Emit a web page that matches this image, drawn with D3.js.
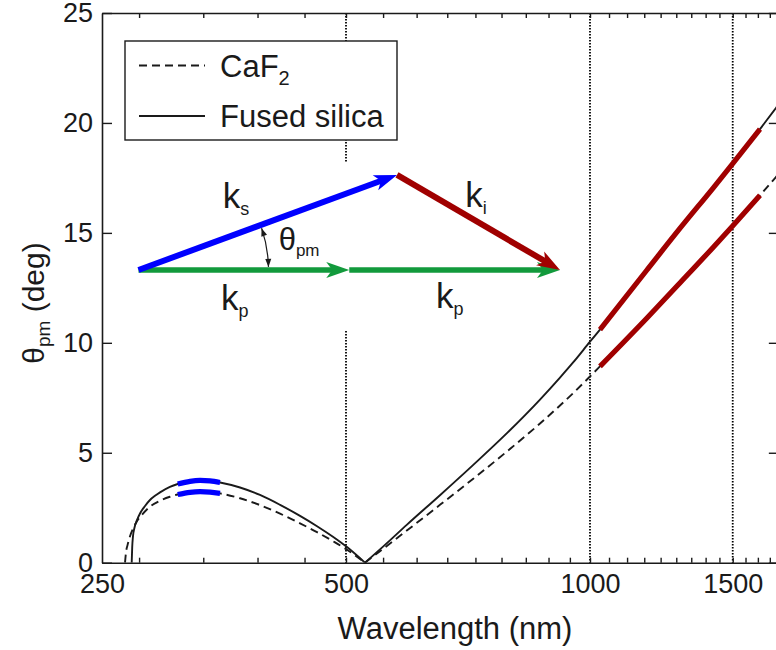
<!DOCTYPE html>
<html><head><meta charset="utf-8">
<script src="https://cdn.jsdelivr.net/npm/d3@7"></script>
<style>
html,body{margin:0;padding:0;background:#fff;overflow:hidden}
svg{display:block}
text{font-family:"Liberation Sans",Arial,Helvetica,sans-serif;fill:#1a1a1a}
</style></head><body>
<svg id="c" width="776" height="650"></svg>
<script>
// ---- data (wavelength nm, phase-matching angle deg) ----
const fusedSilica = [
 [272.0,0],[272.4,0.7],[273.0,1.2],[274.2,1.6],[276.2,1.95],[278.5,2.24],[282.5,2.58],[286.5,2.85],[290.6,3.04],[294.8,3.2],
 [303.2,3.45],[310,3.58],[321,3.7],[330.3,3.74],[339.8,3.72],[349.6,3.65],[370,3.42],[391.6,3.08],[414.6,2.63],[438.8,2.13],
 [460.5,1.66],[481.8,1.18],[501,0.72],[527.7,0],
 [555.5,0.73],[594.2,1.72],[653,3.07],[717.8,4.45],[789.3,5.88],[867.6,7.42],[918.3,8.42],[953.8,9.12],[1000,10.05],[1028.8,10.6],
 [1175,13.3],[1291,15.2],[1419.5,17.05],[1502.5,18.18],[1620.8,19.72],[1696,20.68],[1710,20.85]
];
const caF2 = [
 [266.9,0],[267.6,0.45],[268.8,0.8],[270.7,1.2],[273.3,1.58],[276.2,1.9],[279.9,2.17],[286.5,2.55],[294.8,2.82],[303.2,3.0],
 [310,3.1],[321,3.2],[330.3,3.23],[339.8,3.21],[349.6,3.15],[370,2.93],[391.6,2.62],[414.6,2.23],[438.8,1.79],[460.5,1.39],
 [481.8,0.98],[501,0.6],[527.7,0],
 [594.2,1.46],[653,2.63],[717.8,3.82],[789.3,5.05],[867.6,6.33],[918.3,7.15],[953.8,7.72],[1000,8.47],[1028.8,8.93],
 [1175,11.12],[1291,12.72],[1419.5,14.35],[1502.5,15.35],[1620.8,16.71],[1696,17.54],[1710,17.69]
];
const signalRange = [310, 350];       // blue highlighted band
const idlerRange  = [1028, 1621];     // red highlighted band
const xLabelTicks = [250, 500, 1000, 1500];
const xMinorTicks = d3.range(5, 31).map(n => n * 500 / 9);
const yTicks = [0, 5, 10, 15, 20, 25];
const markerLines = [500, 1000, 1500];
const seriesNames = ["CaF", "Fused silica"];
// inset vector diagram (units of |k_p|)
const thetaPmDeg = 20.2;
const ksLength = 1.307;
const kpLength = 1;

const colors = {ink:"#1a1a1a", blue:"#0000ff", red:"#a00000", green:"#129a3c"};

const svg = d3.select("#c");
const plot = {left:102, right:778.84, top:13, bottom:562.7};
const x = d3.scaleLog().domain([250, 1710]).range([plot.left, plot.right]);
const y = d3.scaleLinear().domain([0, 25]).range([plot.bottom, plot.top]);

svg.append("defs").append("clipPath").attr("id","clip")
  .append("rect").attr("x",plot.left).attr("y",plot.top)
  .attr("width",plot.right-plot.left).attr("height",plot.bottom-plot.top);

// dotted vertical markers
svg.append("g").selectAll("line").data(markerLines).join("line")
  .attr("x1",d=>x(d)).attr("x2",d=>x(d)).attr("y1",plot.top).attr("y2",plot.bottom)
  .attr("stroke","#000").attr("stroke-width",1.8).attr("stroke-dasharray","1.6,1.4");

// split a series into branches at interior zero points
function branches(data){
  const out=[]; let cur=[data[0]];
  for(let i=1;i<data.length;i++){
    cur.push(data[i]);
    if(data[i][1]===0 && i<data.length-1){ out.push(cur); cur=[data[i]]; }
  }
  out.push(cur); return out;
}
const line = d3.line().x(d=>x(d[0])).y(d=>y(d[1])).curve(d3.curveMonotoneX);
const gCurves = svg.append("g").attr("clip-path","url(#clip)");
[[caF2,"8,5"],[fusedSilica,null]].forEach(([data,dash])=>{
  branches(data).forEach(b=>{
    gCurves.append("path").attr("d",line(b)).attr("fill","none")
      .attr("stroke",colors.ink).attr("stroke-width",1.9)
      .attr("stroke-dasharray",dash);
  });
});
// highlighted bands
[[signalRange,colors.blue],[idlerRange,colors.red]].forEach(([r,c])=>{
  [fusedSilica,caF2].forEach(data=>{
    const seg = data.filter(d=>d[0]>=r[0] && d[0]<=r[1]);
    gCurves.append("path").attr("d",line(seg)).attr("fill","none")
      .attr("stroke",c).attr("stroke-width",5.2);
  });
});

// legend
const lg = svg.append("g");
lg.append("rect").attr("x",125).attr("y",41).attr("width",272).attr("height",99)
  .attr("fill","#fff").attr("stroke",colors.ink).attr("stroke-width",1.4);
lg.append("line").attr("x1",139).attr("x2",205).attr("y1",65.5).attr("y2",65.5)
  .attr("stroke",colors.ink).attr("stroke-width",1.9).attr("stroke-dasharray","8,5");
lg.append("line").attr("x1",139).attr("x2",205).attr("y1",116).attr("y2",116)
  .attr("stroke",colors.ink).attr("stroke-width",1.9);
const t1 = lg.append("text").attr("x",220).attr("y",76.5).attr("font-size",31);
t1.append("tspan").text(seriesNames[0]);
t1.append("tspan").text("2").attr("font-size",20).attr("dy",8);
lg.append("text").attr("x",220).attr("y",127).attr("font-size",31).text(seriesNames[1]);

// inset vector diagram
const inset = svg.append("g");
inset.append("rect").attr("x",118).attr("y",162).attr("width",456).attr("height",168).attr("fill","#fff");
const ix = d3.scaleLinear().domain([0,2]).range([138.5,560]);
const iy = d3.scaleLinear().domain([0,1]).range([270,270-210.75]);
const th = thetaPmDeg*Math.PI/180;
const O=[0,0], P1=[kpLength,0], P2=[2*kpLength,0], S=[ksLength*Math.cos(th), ksLength*Math.sin(th)];
function px(p){return [ix(p[0]), iy(p[1])];}
function arrow(a,b,color,w){
  const A=px(a), B=px(b);
  const dx=B[0]-A[0], dy=B[1]-A[1], L=Math.hypot(dx,dy), u=[dx/L,dy/L], n=[-u[1],u[0]];
  const HL=23, HW=8, NT=6;
  inset.append("line").attr("x1",A[0]).attr("y1",A[1])
    .attr("x2",B[0]-u[0]*14).attr("y2",B[1]-u[1]*14)
    .attr("stroke",color).attr("stroke-width",w);
  const pts=[B,[B[0]-u[0]*HL+n[0]*HW,B[1]-u[1]*HL+n[1]*HW],[B[0]-u[0]*(HL-NT),B[1]-u[1]*(HL-NT)],[B[0]-u[0]*HL-n[0]*HW,B[1]-u[1]*HL-n[1]*HW]];
  inset.append("polygon").attr("points",pts.map(p=>p.join(",")).join(" ")).attr("fill",color);
}
arrow(O,P1,colors.green,5.5);
arrow(P1,P2,colors.green,5.5);
arrow(O,S,colors.blue,6);
arrow(S,P2,colors.red,6);
// angle arc
{
  const C=px(O), r=130, a0=0.024, a1=th-0.025;
  const p0=[C[0]+r*Math.cos(a0), C[1]-r*Math.sin(a0)], p1=[C[0]+r*Math.cos(a1), C[1]-r*Math.sin(a1)];
  inset.append("path").attr("d",`M${p0}A${r},${r} 0 0 0 ${p1}`).attr("fill","none")
    .attr("stroke",colors.ink).attr("stroke-width",1.2);
  const head=(p,d)=>{const n=[-d[1],d[0]];const L=8,H=3;
    inset.append("polygon").attr("points",[p,[p[0]-d[0]*L+n[0]*H,p[1]-d[1]*L+n[1]*H],[p[0]-d[0]*L-n[0]*H,p[1]-d[1]*L-n[1]*H]].map(q=>q.join(",")).join(" ")).attr("fill",colors.ink);};
  head(p1,[-Math.sin(a1),-Math.cos(a1)]);
  head(p0,[Math.sin(a0),Math.cos(a0)]);
}
const insetLabels = [
  {m:"k", s:"s", u:0.400, v:0.294, fm:35, fs:18, dy:7},
  {m:"θ", s:"pm", u:0.665, v:0.095, fm:31, fs:17, dy:6},
  {m:"k", s:"p", u:0.392, v:-0.190, fm:35, fs:18, dy:7},
  {m:"k", s:"p", u:1.412, v:-0.180, fm:35, fs:18, dy:7},
  {m:"k", s:"i", u:1.550, v:0.299, fm:35, fs:18, dy:7}
];
insetLabels.forEach(l=>{
  const t=inset.append("text").attr("x",ix(l.u)).attr("y",iy(l.v)).attr("font-size",l.fm);
  t.append("tspan").text(l.m);
  t.append("tspan").text(l.s).attr("font-size",l.fs).attr("dy",l.dy);
});

// axes
function styleAxis(g){
  g.attr("font-family",null).attr("font-size",null);
  g.select(".domain").attr("stroke",colors.ink).attr("stroke-width",1.6);
  g.selectAll(".tick line").attr("stroke",colors.ink).attr("stroke-width",1.4);
  g.selectAll(".tick text").attr("font-size",27).attr("fill",colors.ink);
}
svg.append("g").attr("transform",`translate(0,${plot.bottom})`)
  .call(d3.axisBottom(x).tickValues(xMinorTicks).tickSize(-5).tickSizeOuter(0).tickFormat("")).call(styleAxis);
const xl = svg.append("g").attr("transform",`translate(0,${plot.bottom})`)
  .call(d3.axisBottom(x).tickValues(xLabelTicks).tickSize(0).tickPadding(11).tickFormat(d3.format("d"))).call(styleAxis);
xl.select(".domain").remove();
svg.append("g").attr("transform",`translate(0,${plot.top})`)
  .call(d3.axisTop(x).tickValues(xMinorTicks).tickSize(-5).tickSizeOuter(0).tickFormat("")).call(styleAxis);
svg.append("g").attr("transform",`translate(${plot.left},0)`)
  .call(d3.axisLeft(y).tickValues(yTicks).tickSize(-10).tickSizeOuter(0).tickPadding(9)).call(styleAxis);
svg.append("g").attr("transform",`translate(${plot.right},0)`)
  .call(d3.axisRight(y).tickValues(yTicks).tickSize(-10).tickSizeOuter(0).tickFormat("")).call(styleAxis);

// axis titles
svg.append("text").attr("x",455).attr("y",639).attr("text-anchor","middle").attr("font-size",31).text("Wavelength (nm)");
const yt = svg.append("text").attr("transform","translate(44,303) rotate(-90)").attr("text-anchor","middle").attr("font-size",30);
yt.append("tspan").text("θ");
yt.append("tspan").text("pm").attr("font-size",19).attr("dy",6);
yt.append("tspan").text(" (deg)").attr("dy",-6);
</script>
</body></html>
